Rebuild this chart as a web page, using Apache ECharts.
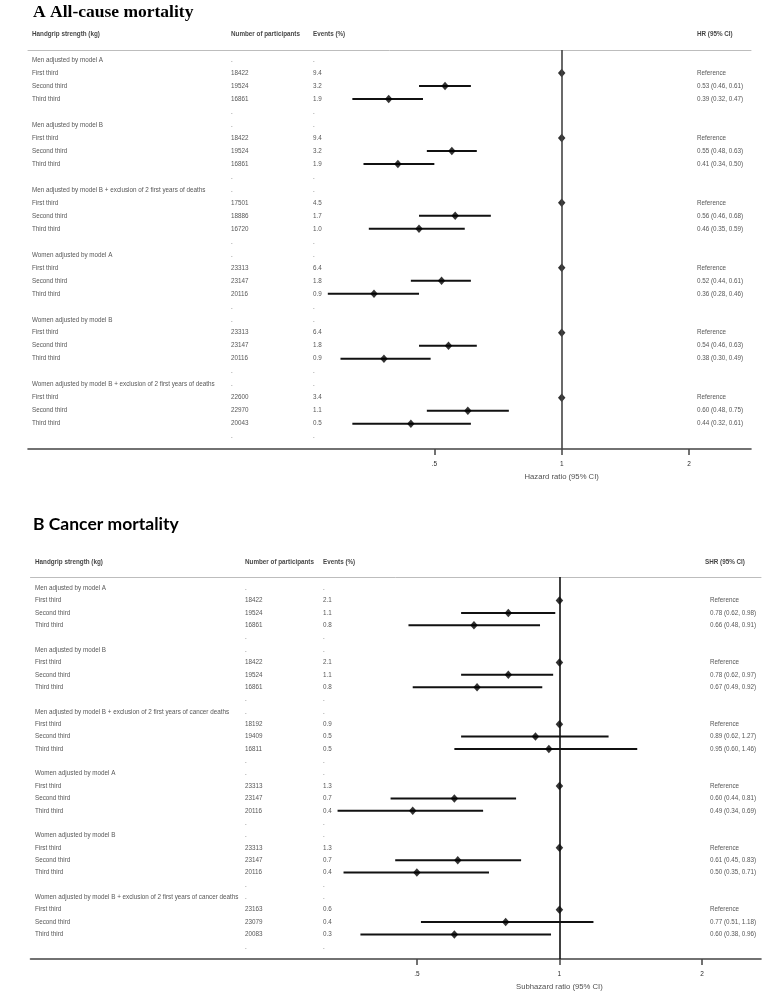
<!DOCTYPE html>
<html><head><meta charset="utf-8">
<script src="https://cdn.jsdelivr.net/npm/echarts@6/dist/echarts.min.js"></script>
<style>html,body{margin:0;padding:0;background:#fff}#c{width:783px;height:1000px}</style>
</head><body><div id="c"></div>
<script>
// ---------- DATA ----------
const thirds = ['First third', 'Second third', 'Third third'];

const groupsA = [
  'Men adjusted by model A',
  'Men adjusted by model B',
  'Men adjusted by model B + exclusion of 2 first years of deaths',
  'Women adjusted by model A',
  'Women adjusted by model B',
  'Women adjusted by model B + exclusion of 2 first years of deaths'
];
const participantsA = [
  [18422, 19524, 16861],
  [18422, 19524, 16861],
  [17501, 18886, 16720],
  [23313, 23147, 20116],
  [23313, 23147, 20116],
  [22600, 22970, 20043]
];
const eventsA = [
  ['9.4', '3.2', '1.9'],
  ['9.4', '3.2', '1.9'],
  ['4.5', '1.7', '1.0'],
  ['6.4', '1.8', '0.9'],
  ['6.4', '1.8', '0.9'],
  ['3.4', '1.1', '0.5']
];
const hrA = [
  [1, 0.53, 0.39],
  [1, 0.55, 0.41],
  [1, 0.56, 0.46],
  [1, 0.52, 0.36],
  [1, 0.54, 0.38],
  [1, 0.60, 0.44]
];
const loA = [
  [null, 0.46, 0.32],
  [null, 0.48, 0.34],
  [null, 0.46, 0.35],
  [null, 0.44, 0.28],
  [null, 0.46, 0.30],
  [null, 0.48, 0.32]
];
const hiA = [
  [null, 0.61, 0.47],
  [null, 0.63, 0.50],
  [null, 0.68, 0.59],
  [null, 0.61, 0.46],
  [null, 0.63, 0.49],
  [null, 0.75, 0.61]
];

const groupsB = [
  'Men adjusted by model A',
  'Men adjusted by model B',
  'Men adjusted by model B + exclusion of 2 first years of cancer deaths',
  'Women adjusted by model A',
  'Women adjusted by model B',
  'Women adjusted by model B + exclusion of 2 first years of cancer deaths'
];
const participantsB = [
  [18422, 19524, 16861],
  [18422, 19524, 16861],
  [18192, 19409, 16811],
  [23313, 23147, 20116],
  [23313, 23147, 20116],
  [23163, 23079, 20083]
];
const eventsB = [
  ['2.1', '1.1', '0.8'],
  ['2.1', '1.1', '0.8'],
  ['0.9', '0.5', '0.5'],
  ['1.3', '0.7', '0.4'],
  ['1.3', '0.7', '0.4'],
  ['0.6', '0.4', '0.3']
];
const hrB = [
  [1, 0.78, 0.66],
  [1, 0.78, 0.67],
  [1, 0.89, 0.95],
  [1, 0.60, 0.49],
  [1, 0.61, 0.50],
  [1, 0.77, 0.60]
];
const loB = [
  [null, 0.62, 0.48],
  [null, 0.62, 0.49],
  [null, 0.62, 0.60],
  [null, 0.44, 0.34],
  [null, 0.45, 0.35],
  [null, 0.51, 0.38]
];
const hiB = [
  [null, 0.98, 0.91],
  [null, 0.97, 0.92],
  [null, 1.27, 1.46],
  [null, 0.81, 0.69],
  [null, 0.83, 0.71],
  [null, 1.18, 0.96]
];

const tickValues = [0.5, 1, 2];
const tickLabels = ['.5', '1', '2'];
const headersA = ['Handgrip strength (kg)', 'Number of participants', 'Events (%)', 'HR (95% CI)'];
const headersB = ['Handgrip strength (kg)', 'Number of participants', 'Events (%)', 'SHR (95% CI)'];
const titleA = 'A All-cause mortality';
const titleB = 'B Cancer mortality';
const axisTitleA = 'Hazard ratio (95% CI)';
const axisTitleB = 'Subhazard ratio (95% CI)';
const refText = 'Reference';

// ---------- LAYOUT ----------
const layoutA = {
  left: 28, right: 751, top: 50, bottom: 449,
  yMin: -0.77, yMax: 29.95, xMin: 0.05476, xMax: 2.802,
  cols: [32, 231, 313, 697], valCol: 697, headerRow: -2,
  refColor: '#444'
};
const layoutB = {
  left: 30.5, right: 761, top: 577, bottom: 959,
  yMin: -0.91, yMax: 29.99, xMin: 0.07639, xMax: 2.665,
  cols: [35, 245, 323, 705], valCol: 710, headerRow: -2.13,
  refColor: '#111'
};
const FONT = 'Liberation Sans, Arial, sans-serif';
const textColor = '#2b2b2b';

function fmt(v) { return v.toFixed(2); }

function buildPanel(idx, L, groups, parts, evs, hr, lo, hi, headers, axisTitle) {
  const xLog = idx * 2, xPix = idx * 2 + 1, yI = idx;
  const grid = { left: L.left, width: L.right - L.left, top: L.top, height: L.bottom - L.top };
  const xAxes = [
    {
      gridIndex: idx, type: 'log', logBase: 2, min: L.xMin, max: L.xMax,
      axisLine: { show: true, onZero: false, lineStyle: { color: '#444', width: 1.6 } },
      axisTick: { show: true, customValues: tickValues, length: 6, lineStyle: { color: '#444', width: 1.5 } },
      axisLabel: {
        show: true, customValues: tickValues, margin: 12, fontSize: 6.5, color: textColor, fontFamily: FONT,
        formatter: v => { const i = tickValues.findIndex(t => Math.abs(t - v) < 1e-6); return i >= 0 ? tickLabels[i] : ''; }
      },
      splitLine: { show: false }, minorTick: { show: false }
    },
    {
      gridIndex: idx, type: 'value', position: 'top', min: L.left, max: L.right,
      axisLine: { show: true, onZero: false, lineStyle: { color: '#bdbdbd', width: 1 } },
      axisTick: { show: false }, axisLabel: { show: false }, splitLine: { show: false }
    }
  ];
  const yAxis = {
    gridIndex: idx, type: 'value', inverse: true, min: L.yMin, max: L.yMax, show: false,
    axisLine: { onZero: false }, splitLine: { show: false }
  };

  const normalText = [], boldText = [], ci = [], pts = [];
  headers.forEach((h, i) => boldText.push([L.cols[i], L.headerRow, h]));
  groups.forEach((g, gi) => {
    const base = gi * 5;
    normalText.push([L.cols[0], base, g], [L.cols[1], base, '.'], [L.cols[2], base, '.']);
    for (let k = 0; k < 3; k++) {
      const r = base + 1 + k;
      normalText.push([L.cols[0], r, thirds[k]], [L.cols[1], r, String(parts[gi][k])], [L.cols[2], r, evs[gi][k]]);
      normalText.push([L.valCol, r, lo[gi][k] == null ? refText : fmt(hr[gi][k]) + ' (' + fmt(lo[gi][k]) + ', ' + fmt(hi[gi][k]) + ')']);
      pts.push([hr[gi][k], r]);
      if (lo[gi][k] != null) ci.push([r, lo[gi][k], hi[gi][k]]);
    }
    normalText.push([L.cols[1], base + 4, '.'], [L.cols[2], base + 4, '.']);
  });

  const lbl = (bold) => ({
    show: true, position: 'right', distance: 0, formatter: p => p.data[2],
    fontSize: 6.3, fontWeight: bold ? 'bold' : 'normal', color: bold ? '#111' : textColor, fontFamily: FONT
  });
  const series = [
    { type: 'scatter', xAxisIndex: xPix, yAxisIndex: yI, symbolSize: 0, clip: false, silent: true, data: normalText, label: lbl(false) },
    { type: 'scatter', xAxisIndex: xPix, yAxisIndex: yI, symbolSize: 0, clip: false, silent: true, data: boldText, label: lbl(true) },
    {
      type: 'custom', xAxisIndex: xLog, yAxisIndex: yI, clip: false, silent: true,
      encode: { x: [1, 2], y: 0 }, data: ci,
      renderItem: (params, api) => {
        const p1 = api.coord([api.value(1), api.value(0)]);
        const p2 = api.coord([api.value(2), api.value(0)]);
        return { type: 'line', shape: { x1: p1[0], y1: p1[1], x2: p2[0], y2: p2[1] }, style: { stroke: '#111', lineWidth: 2 } };
      },
      z: 3
    },
    {
      type: 'scatter', xAxisIndex: xLog, yAxisIndex: yI, symbol: 'diamond', symbolSize: [7.5, 8.5], silent: true,
      itemStyle: { color: '#000' }, data: pts, z: 4,
      markLine: {
        silent: true, symbol: 'none', label: { show: false },
        lineStyle: { color: L.refColor, width: 1.6, type: 'solid' },
        data: [{ xAxis: 1 }]
      }
    },
    {
      type: 'scatter', xAxisIndex: xLog, yAxisIndex: yI, symbolSize: 0, clip: false, silent: true,
      data: [[1, L.yMax, axisTitle]],
      label: { show: true, position: 'inside', offset: [0, 28], formatter: p => p.data[2], fontSize: 7.7, color: '#222', fontFamily: FONT }
    }
  ];
  return { grid, xAxes, yAxis, series };
}

const pA = buildPanel(0, layoutA, groupsA, participantsA, eventsA, hrA, loA, hiA, headersA, axisTitleA);
const pB = buildPanel(1, layoutB, groupsB, participantsB, eventsB, hrB, loB, hiB, headersB, axisTitleB);

const chart = echarts.init(document.getElementById('c'), null, { renderer: 'canvas' });
chart.setOption({
  animation: false,
  backgroundColor: '#fff',
  title: [
    { text: titleA, left: 33, top: 3.5, padding: 0, textStyle: { fontFamily: 'Liberation Serif, Times New Roman, serif', fontWeight: 'bold', fontSize: 17.5, color: '#000' } },
    { text: titleB, left: 33, top: 515.5, padding: 0, textStyle: { fontFamily: 'Lato, Open Sans, sans-serif', fontWeight: 'bold', fontSize: 17.5, color: '#000' } }
  ],
  grid: [pA.grid, pB.grid],
  xAxis: [...pA.xAxes, ...pB.xAxes],
  yAxis: [pA.yAxis, pB.yAxis],
  series: [...pA.series, ...pB.series]
});
</script></body></html>
